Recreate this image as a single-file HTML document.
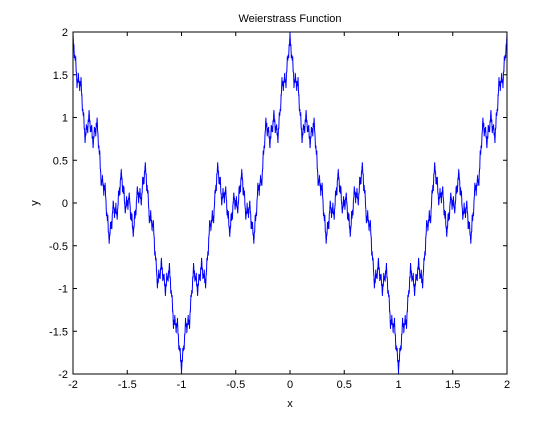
<!DOCTYPE html>
<html>
<head>
<meta charset="utf-8">
<style>
  html, body { margin: 0; padding: 0; background: #fff; }
  body { width: 560px; height: 420px; overflow: hidden; }
  svg text { font-family: "Liberation Sans", Arial, sans-serif; font-size: 11px; fill: #000; }
</style>
</head>
<body>
<svg id="chart" width="560" height="420" viewBox="0 0 560 420" xmlns="http://www.w3.org/2000/svg">
  <rect x="0" y="0" width="560" height="420" fill="#fff"/>
  <rect x="73" y="32" width="434" height="342" fill="#fff"/>
  <g id="ticks"></g>
  <path id="series" fill="none" stroke="#0000ff" stroke-width="1"/>
  <rect x="73" y="32" width="434" height="342" fill="none" stroke="#000" stroke-width="1"/>
  <text x="290" y="22" text-anchor="middle">Weierstrass Function</text>
  <text x="290" y="407" text-anchor="middle">x</text>
  <text x="38" y="203" text-anchor="middle" transform="rotate(-90 38 203)">y</text>
</svg>
<script>
// Data / series definition
const xTicks = [-2, -1.5, -1, -0.5, 0, 0.5, 1, 1.5, 2];
const xTickLabels = ["-2", "-1.5", "-1", "-0.5", "0", "0.5", "1", "1.5", "2"];
const yTicks = [-2, -1.5, -1, -0.5, 0, 0.5, 1, 1.5, 2];
const yTickLabels = ["-2", "-1.5", "-1", "-0.5", "0", "0.5", "1", "1.5", "2"];
const xDomain = [-2, 2];
const yDomain = [-2, 2];
// Weierstrass parameters: y = sum a^n cos(b^n * pi * x)
const amplitudeBase = [0.5];
const frequencyBase = [3];
const termCount = [12];
const sampleCount = [4000];

const L = 73, R = 507, T = 32, B = 374;
function sx(v) { return L + (v - xDomain[0]) / (xDomain[1] - xDomain[0]) * (R - L); }
function sy(v) { return B - (v - yDomain[0]) / (yDomain[1] - yDomain[0]) * (B - T); }

const NS = "http://www.w3.org/2000/svg";
const svg = document.getElementById('chart');
const tg = document.getElementById('ticks');

function mk(tag, attrs) {
  const e = document.createElementNS(NS, tag);
  for (const k in attrs) e.setAttribute(k, attrs[k]);
  return e;
}

xTicks.forEach((v, i) => {
  const x = sx(v);
  const t1 = mk('line', {x1: x, y1: B, x2: x, y2: B - 4, stroke: '#000'});
  
  
  tg.appendChild(t1);
  const t2 = mk('line', {x1: x, y1: T, x2: x, y2: T + 4, stroke: '#000'});
  
  
  tg.appendChild(t2);
  const lb = mk('text', {x: x, y: B + 14, 'text-anchor': 'middle'});
  lb.textContent = xTickLabels[i];
  
  
  svg.appendChild(lb);
});

yTicks.forEach((v, i) => {
  const y = sy(v);
  const t1 = mk('line', {x1: L, y1: y, x2: L + 4, y2: y, stroke: '#000'});
  
  
  tg.appendChild(t1);
  const t2 = mk('line', {x1: R, y1: y, x2: R - 4, y2: y, stroke: '#000'});
  
  
  tg.appendChild(t2);
  const lb = mk('text', {x: L - 5, y: y + 4, 'text-anchor': 'end'});
  lb.textContent = yTickLabels[i];
  
  
  svg.appendChild(lb);
});

let d = '';
const n = sampleCount[0];
for (let i = 0; i <= n; i++) {
  const x = xDomain[0] + (xDomain[1] - xDomain[0]) * i / n;
  let y = 0;
  for (let k = 0; k < termCount[0]; k++) {
    y += Math.pow(amplitudeBase[0], k) * Math.cos(Math.pow(frequencyBase[0], k) * Math.PI * x);
  }
  d += (i ? 'L' : 'M') + sx(x).toFixed(2) + ',' + sy(y).toFixed(2);
}
document.getElementById('series').setAttribute('d', d);
</script>
</body>
</html>
